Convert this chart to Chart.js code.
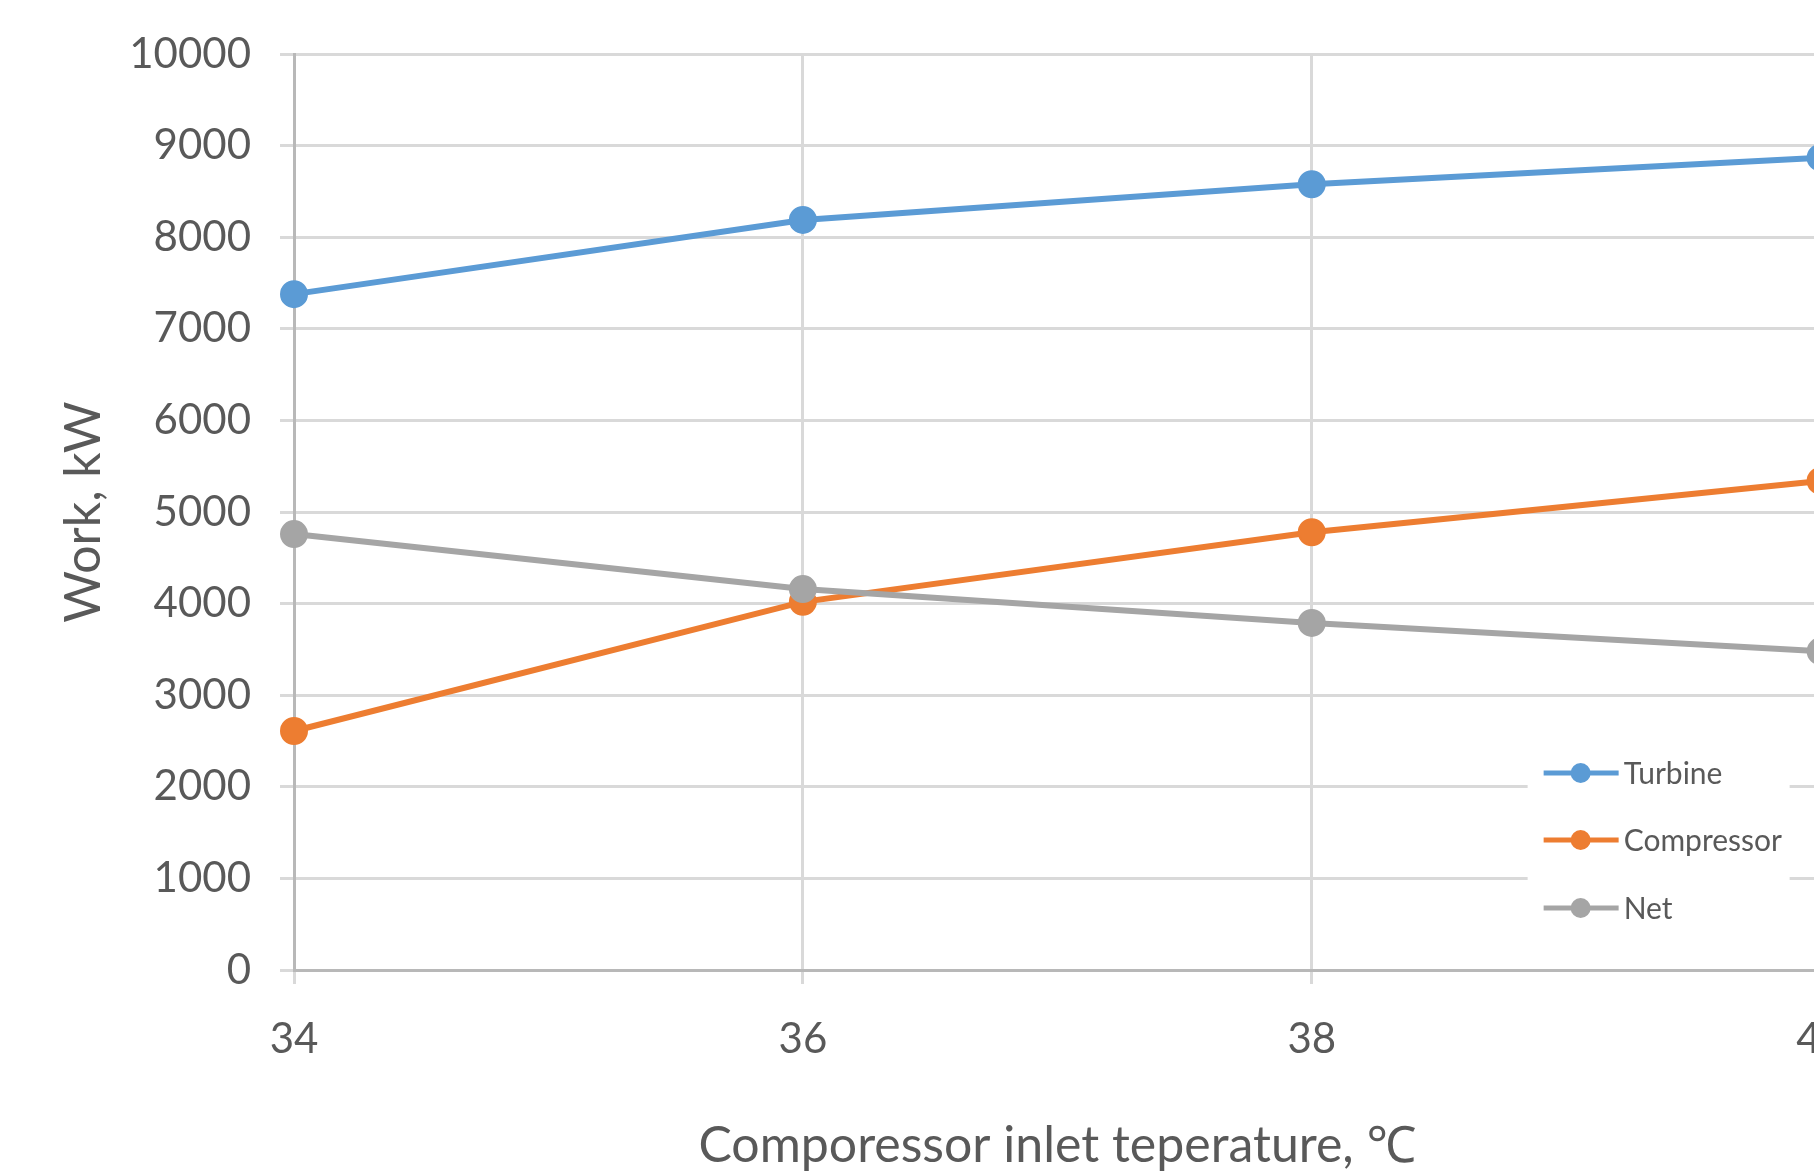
<!DOCTYPE html>
<html>
<head>
<meta charset="utf-8">
<title>Work vs compressor inlet temperature</title>
<script src="https://cdn.jsdelivr.net/npm/chart.js@4/dist/chart.umd.min.js"></script>
<style>
  html, body { margin: 0; padding: 0; background: #fff; overflow: hidden; }
  #wrap { position: absolute; left: 0; top: 0; width: 1875px; height: 1176px; }
</style>
</head>
<body>
<div id="wrap"><canvas id="chart" width="1875" height="1176"></canvas></div>
<script>
// data
const temps = [34, 36, 38, 40];
const turbine = [7380, 8190, 8580, 8870];
const compressor = [2610, 4020, 4780, 5340];
const net = [4760, 4160, 3790, 3480];
const seriesNames = ['Turbine', 'Compressor', 'Net'];
const yTicks = [0, 1000, 2000, 3000, 4000, 5000, 6000, 7000, 8000, 9000, 10000];

const Theme = {
  text: '#595959',
  grid: '#d9d9d9',
  axis: '#b8b8b8',
  blue: '#5b9bd5',
  orange: '#ed7d31',
  gray: '#a5a5a5',
  font: "Lato, 'Noto Sans', 'DejaVu Sans', sans-serif"
};

Chart.defaults.font.family = Theme.font;
Chart.defaults.color = Theme.text;

function toPoints(ys) {
  return temps.map((t, i) => ({ x: t, y: ys[i] }));
}

function lineSet(label, ys, color, order) {
  return {
    label,
    data: toPoints(ys),
    borderColor: color,
    backgroundColor: color,
    borderWidth: 6,
    pointRadius: 13,
    pointBorderWidth: 2,
    pointBorderColor: color,
    pointBackgroundColor: color,
    tension: 0,
    order,
    clip: false
  };
}

// legend drawn inside the plot, bottom right, over a white box
const cornerLegend = {
  id: 'cornerLegend',
  afterDatasetsDraw(chart) {
    const { ctx, chartArea } = chart;
    const left = chartArea.right - 293;
    const right = chartArea.right - 31;
    const top = chartArea.bottom - 252;
    const bottom = chartArea.bottom - 20;
    ctx.save();
    ctx.fillStyle = '#ffffff';
    ctx.fillRect(left, top, right - left, bottom - top);
    const rows = [197, 130, 62];
    const sets = [chart.data.datasets[0], chart.data.datasets[1], chart.data.datasets[2]];
    sets.forEach((ds, i) => {
      const cy = chartArea.bottom - rows[i];
      ctx.strokeStyle = ds.borderColor;
      ctx.lineWidth = 5;
      ctx.beginPath();
      ctx.moveTo(left + 16, cy);
      ctx.lineTo(left + 91, cy);
      ctx.stroke();
      ctx.fillStyle = ds.borderColor;
      ctx.beginPath();
      ctx.arc(left + 53, cy, 10, 0, Math.PI * 2);
      ctx.fill();
      ctx.fillStyle = Theme.text;
      ctx.font = '30px ' + Theme.font;
      ctx.textBaseline = 'middle';
      ctx.textAlign = 'left';
      ctx.fillText(ds.label, left + 96, cy + 1);
    });
    ctx.restore();
  }
};

new Chart(document.getElementById('chart'), {
  type: 'line',
  data: {
    datasets: [
      lineSet(seriesNames[0], turbine, Theme.blue, 2),
      lineSet(seriesNames[1], compressor, Theme.orange, 1),
      lineSet(seriesNames[2], net, Theme.gray, 0)
    ]
  },
  options: {
    responsive: false,
    animation: false,
    layout: { padding: { top: 52, right: 0, bottom: 0, left: 0 } },
    plugins: {
      legend: { display: false },
      tooltip: { enabled: false }
    },
    scales: {
      x: {
        type: 'linear',
        min: 34,
        max: 40,
        ticks: {
          stepSize: 2,
          padding: 30,
          color: Theme.text,
          font: { size: 42 }
        },
        grid: { color: Theme.grid, lineWidth: 3, tickLength: 14 },
        border: { color: Theme.axis, width: 3 },
        title: {
          display: true,
          text: 'Comporessor inlet teperature, ℃',
          color: Theme.text,
          font: { size: 50 },
          padding: { top: 0, bottom: 0 }
        },
        afterFit(scale) { scale.height = 206; }
      },
      y: {
        type: 'linear',
        min: yTicks[0],
        max: yTicks[yTicks.length - 1],
        afterBuildTicks(scale) { scale.ticks = yTicks.map(v => ({ value: v })); },
        ticks: {
          padding: 29,
          color: Theme.text,
          font: { size: 42 },
          callback: v => String(v)
        },
        grid: { color: Theme.grid, lineWidth: 3, tickLength: 14 },
        border: { color: Theme.axis, width: 3 },
        title: {
          display: true,
          text: 'Work, kW',
          color: Theme.text,
          font: { size: 50 },
          padding: { top: 54, bottom: 0 }
        },
        afterFit(scale) { scale.width = 294; }
      }
    }
  },
  plugins: [cornerLegend]
});
</script>
</body>
</html>
